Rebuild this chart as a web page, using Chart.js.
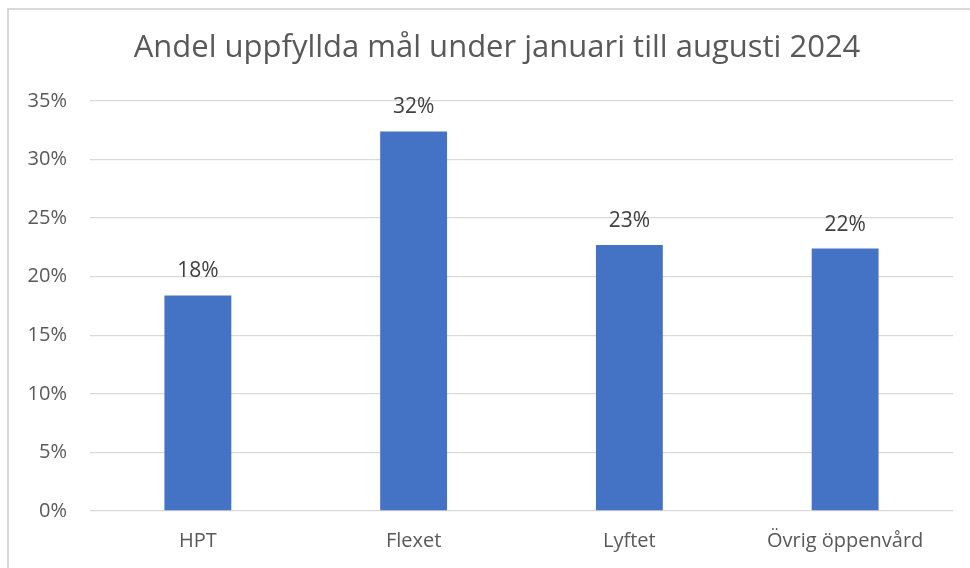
<!DOCTYPE html>
<html>
<head>
  <meta charset="utf-8">
  <script src="https://cdn.jsdelivr.net/npm/chart.js"></script>
  <style>
    body { margin:0; background:#fff; overflow:hidden; }
    .Frame {
      position:absolute; left:7px; top:8px; width:1000px; height:600px;
      border:2px solid #d9d9d9; box-sizing:border-box;
    }
    .Holder { position:absolute; left:0; top:0; width:970px; height:568px; }
  </style>
</head>
<body>
<div class="Frame"></div>
<div class="Holder"><canvas id="myChart"></canvas></div>
<script>
  var chartTitle = "Andel uppfyllda mål under januari till augusti 2024";
  var categories = ["HPT", "Flexet", "Lyftet", "Övrig öppenvård"];
  var shares = [18.4, 32.4, 22.7, 22.4]; // percent
  var yTicks = [0, 5, 10, 15, 20, 25, 30, 35];

  var textColor = "#595959";
  var fontFamily = "'Open Sans', 'Noto Sans', sans-serif";

  // title is placed by hand, centred on the whole frame rather than the chart box
  var frameTitle = {
    id: 'frameTitle',
    afterDraw: function(chart) {
      var ctx = chart.ctx;
      ctx.save();
      ctx.fillStyle = textColor;
      ctx.font = "31px " + fontFamily;
      ctx.textAlign = "center";
      ctx.textBaseline = "middle";
      ctx.fillText(chartTitle, 497, 48);
      ctx.restore();
    }
  };

  // draws the rounded value above each bar
  var valueLabels = {
    id: 'valueLabels',
    afterDatasetsDraw: function(chart) {
      var ctx = chart.ctx;
      var meta = chart.getDatasetMeta(0);
      ctx.save();
      ctx.fillStyle = "#404040";
      ctx.font = "21px " + fontFamily;
      ctx.textAlign = "center";
      ctx.textBaseline = "middle";
      meta.data.forEach(function(bar, i) {
        ctx.fillText(Math.round(shares[i]) + "%", bar.x, bar.y - 24);
      });
      ctx.restore();
    }
  };

  new Chart(document.getElementById('myChart'), {
    type: 'bar',
    data: {
      labels: categories,
      datasets: [{
        data: shares,
        backgroundColor: "#4472c4",
        categoryPercentage: 1,
        barPercentage: 0.31
      }]
    },
    options: {
      responsive: true,
      maintainAspectRatio: false,
      animation: false,
      layout: { padding: { left: 0, right: 17, top: 101, bottom: 0 } },
      plugins: {
        legend: { display: false },
        tooltip: { enabled: false },
        title: { display: false }
      },
      scales: {
        x: {
          grid: { display: false },
          border: { display: false },
          ticks: { color: textColor, font: { family: fontFamily, size: 20 }, padding: 10 },
          afterFit: function(scale) { scale.height = 57; }
        },
        y: {
          min: 0,
          max: 35,
          afterBuildTicks: function(scale) {
            scale.ticks = yTicks.map(function(v) { return { value: v }; });
          },
          grid: { color: "#d9d9d9", lineWidth: 1.3, drawTicks: false },
          border: { display: false },
          ticks: {
            color: textColor,
            font: { family: fontFamily, size: 20 },
            padding: 23,
            callback: function(v) { return v + "%"; }
          },
          afterFit: function(scale) { scale.width = 90; }
        }
      }
    },
    plugins: [valueLabels, frameTitle]
  });
</script>
</body>
</html>
